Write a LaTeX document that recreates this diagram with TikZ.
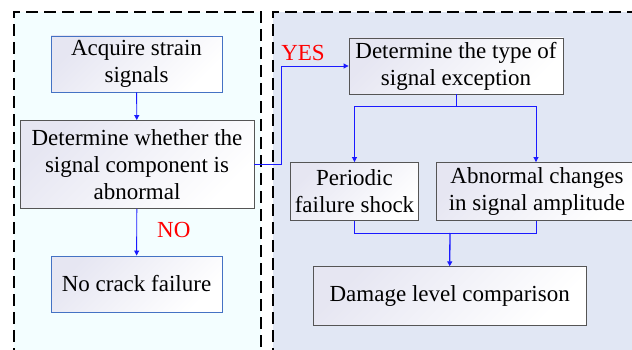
\documentclass[tikz,border=0pt]{standalone}
\usepackage{fontspec}
\setmainfont{Liberation Serif}
\newfontfamily\tnr{Liberation Serif}
\usetikzlibrary{arrows.meta,calc}
\definecolor{leftbg}{HTML}{F3FEFF}
\definecolor{rightbg}{HTML}{E1E7F4}
\definecolor{bluebd}{HTML}{4472C4}
\definecolor{graybd}{HTML}{555555}
\definecolor{grad}{HTML}{E6E6F2}
\definecolor{lineblue}{HTML}{1A1AFF}
\tikzset{
  box/.style={draw=graybd, line width=0.9pt, align=center, inner sep=0pt,
    left color=grad, right color=white, shading angle=45,
    font=\tnr\fontsize{23}{27}\selectfont},
  bluebox/.style={box, draw=bluebd},
  conn/.style={draw=lineblue, line width=0.9pt},
  arr/.style={conn, -{Triangle[length=5pt,width=5pt]}},
  panel/.style={dash pattern=on 12pt off 6pt, line width=2.8pt},
  lbl/.style={text=red, font=\tnr\fontsize{23}{27}\selectfont, inner sep=0pt}
}
\begin{document}
\begin{tikzpicture}[x=1pt,y=-1pt]
\useasboundingbox (0,0) rectangle (632,350);
\begin{scope}
\clip (0,0) rectangle (632,350);
\fill[leftbg] (14,12) rectangle (261,360);
\fill[rightbg] (273,12) rectangle (660,360);
\draw[panel] (14,360) -- (14,12) -- (261,12) -- (261,360);
\draw[panel] (273,360) -- (273,12) -- (660,12);
\end{scope}

\node[bluebox, minimum width=171pt, minimum height=56pt] (acq) at (136.5,64) {Acquire strain\\signals};
\node[box, minimum width=234pt, minimum height=88pt] (det) at (137,164.5) {Determine whether the\\signal component is\\abnormal};
\node[bluebox, minimum width=171pt, minimum height=56pt] (nocrack) at (136.5,284) {No crack failure};
\node[box, minimum width=214pt, minimum height=56pt] (type) at (456,66) {Determine the type of\\signal exception};
\node[box, minimum width=128pt, minimum height=58pt] (per) at (354.5,191.5) {Periodic\\failure shock};
\begin{scope}
\clip (0,0) rectangle (632,350);
\node[box, minimum width=201pt, minimum height=58pt] (abn) at (537,191.5) {Abnormal changes\\in signal amplitude};
\end{scope}
\node[box, minimum width=273pt, minimum height=58.5pt] (dam) at (449.7,296) {Damage level comparison};

\coordinate (yesx) at (281,0);
\coordinate (split) at (456,106);
\coordinate (merge) at (450,233);

\draw[arr] (acq) -- (det);
\draw[arr] (det) -- (nocrack) node[lbl, pos=0.45, right=20pt] (no) {NO};
\draw[arr] (det.east) -| (yesx |- type.west) -- (type.west);
\node[lbl] (yes) at (303,53) {YES};
\draw[conn] (type.south) -- (split);
\draw[arr] (split) -| (per.north);
\draw[arr] (split) -| ($(abn.north)+(-1,0)$);
\draw[conn] (per.south) |- (merge);
\draw[conn] ($(abn.south)+(-1,0)$) |- (merge);
\draw[arr, line width=1.3pt] (merge) -- (dam.north);
\end{tikzpicture}
\end{document}
